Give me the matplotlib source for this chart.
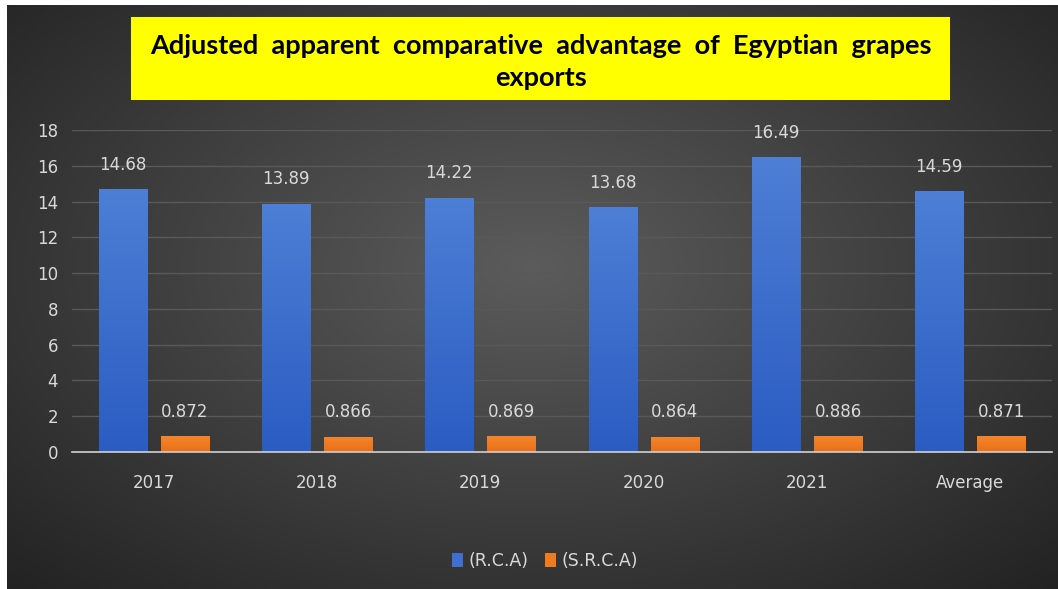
import numpy as np
import matplotlib.pyplot as plt
from matplotlib.patches import Rectangle

categories = ['2017', '2018', '2019', '2020', '2021', 'Average']
rca = [14.68, 13.89, 14.22, 13.68, 16.49, 14.59]
srca = [0.872, 0.866, 0.869, 0.864, 0.886, 0.871]
rca_labels = ['14.68', '13.89', '14.22', '13.68', '16.49', '14.59']
srca_labels = ['0.872', '0.866', '0.869', '0.864', '0.886', '0.871']
title_lines = 'Adjusted  apparent  comparative  advantage  of  Egyptian  grapes\nexports'

W, H = 1058, 589
fig = plt.figure(figsize=(W / 100, H / 100), dpi=100)
fig.patch.set_facecolor('white')

# dark radial background, slightly lighter toward the middle
bg = fig.add_axes([7 / W, 0, 1 - 7 / W, 1 - 5 / H])
yy, xx = np.mgrid[0:1:300j, 0:1:500j]
r = np.sqrt(((xx - 0.5) / 0.7) ** 2 + ((yy - 0.45) / 0.75) ** 2)
shade = np.clip(0.36 - 0.22 * r, 0.13, 0.36)
bg.imshow(np.dstack([shade, shade, shade]), aspect='auto', extent=[0, 1, 0, 1])
bg.set_axis_off()

ax = fig.add_axes([72 / W, 1 - 452 / H, 980 / W, 322 / H])
ax.patch.set_alpha(0)
x = np.arange(len(categories))
w = 0.295
b1 = ax.bar(x - 0.19, rca, width=w, color='#3f6fcf', zorder=3)
b2 = ax.bar(x + 0.19, srca, width=w, color='#f07c20', zorder=3)

# vertical shading on bars: lighter at the top, darker near the axis
grad = np.linspace(1.0, 0.0, 100).reshape(-1, 1)
for bars, top, bot in [(b1, '#4d7fd6', '#2b5cc2'), (b2, '#f5852a', '#e8701a')]:
    c1 = np.array(plt.matplotlib.colors.to_rgb(top))
    c2 = np.array(plt.matplotlib.colors.to_rgb(bot))
    img = c2 + (c1 - c2) * grad[..., None]
    for b in bars:
        im = ax.imshow(img, aspect='auto', zorder=3,
                       extent=[b.get_x(), b.get_x() + b.get_width(), 0, b.get_height()])
        im.set_clip_path(b)

for i in range(len(categories)):
    ax.text(x[i] - 0.19, rca[i] + 0.85, rca_labels[i], ha='center', va='bottom',
            color='#d9d9d9', fontsize=12)
    ax.text(x[i] + 0.19, srca[i] + 0.85, srca_labels[i], ha='center', va='bottom',
            color='#d9d9d9', fontsize=12)

ax.set_xlim(-0.5, len(categories) - 0.5)
ax.set_ylim(0, 18)
ax.set_yticks(range(0, 19, 2))
ax.set_xticks(x)
ax.set_xticklabels(categories)
ax.tick_params(axis='y', colors='#d9d9d9', labelsize=12, length=0, pad=10)
ax.tick_params(axis='x', colors='#d9d9d9', labelsize=12, length=0, pad=16)
ax.grid(axis='y', color='#595959', linewidth=1, zorder=0)
for s in ['top', 'right', 'left']:
    ax.spines[s].set_visible(False)
ax.spines['bottom'].set_color('#d0d0d0')
ax.spines['bottom'].set_linewidth(1.2)
ax.spines['bottom'].set_zorder(4)

# title in a yellow box
fig.patches.append(Rectangle((131 / W, 1 - 100 / H), 819 / W, 83 / H,
                             transform=fig.transFigure, facecolor='#ffff00',
                             edgecolor='none', zorder=5))
fig.text(541 / W, 1 - 62 / H, title_lines, ha='center', va='center',
         fontsize=19.5, fontweight='bold', family='Lato', color='black',
         linespacing=1.45, zorder=6)

leg = fig.legend([b1, b2], ['(R.C.A)', '(S.R.C.A)'], loc='center',
                 bbox_to_anchor=(545 / W, 1 - 561 / H), ncol=2, frameon=False,
                 fontsize=12.5, handlelength=0.6, handleheight=0.9,
                 handletextpad=0.3, columnspacing=1.0)
for t in leg.get_texts():
    t.set_color('#d9d9d9')

fig.savefig('out.png', dpi=100, facecolor=fig.get_facecolor())
